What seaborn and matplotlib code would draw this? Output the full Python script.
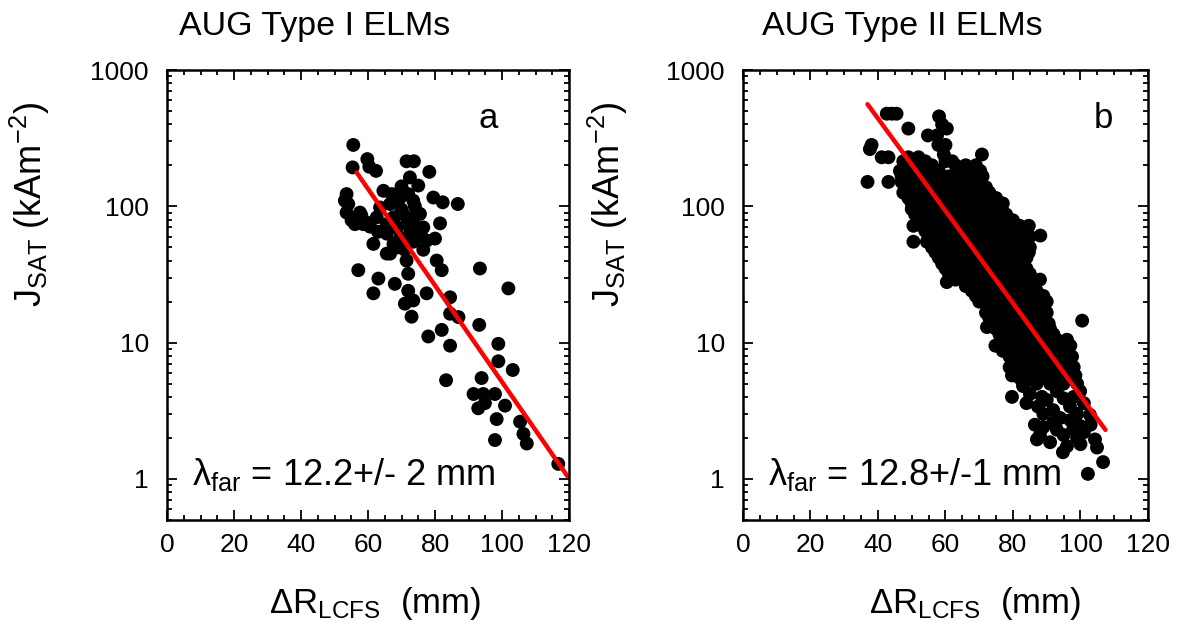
import numpy as np
import pandas as pd
import matplotlib
matplotlib.use("Agg")
import matplotlib.pyplot as plt
import seaborn as sns
from matplotlib.ticker import LogLocator, MultipleLocator, FixedLocator, FixedFormatter, NullFormatter

# ---- data ----
# panel a: AUG Type I ELMs  (dR in mm, Jsat in kA m^-2)
dr_a = [55.6, 55.4, 59.8, 60.4, 62.4, 71.5, 73.7, 78.3, 72.5, 75.0,
        53.6, 54.1, 53.6, 55.1, 57.6, 58.6, 56.1, 59.6, 64.6, 67.1,
        63.6, 66.6, 69.6, 72.0, 73.5, 75.5, 67.6, 70.5, 71.5, 74.5,
        68.6, 65.6, 62.6, 73.5, 76.5, 79.5, 82.3, 86.8, 81.5, 80.0,
        61.6, 66.6, 71.5, 73.5, 76.5, 69.6, 67.6, 65.6, 80.5, 82.0,
        93.4, 101.9, 57.1, 63.1, 61.6, 68.0, 72.0, 73.5, 71.0, 77.5,
        73.0, 84.5, 84.5, 87.0, 93.2, 82.0, 78.0, 84.5, 83.3, 98.9,
        98.9, 103.2, 93.9, 91.5, 94.4, 97.9, 92.9, 94.9, 100.9, 98.4,
        97.9, 105.4, 106.4, 107.4, 116.8, 69.0, 72.0, 67.6, 72.5, 71.0,
        77.5, 60.6, 53.1, 65.6, 70.0, 74.0, 76.0, 63.0, 58.0, 70.0]
js_a = [282, 193, 222, 195, 182, 214, 214, 179, 163, 142,
        123, 104, 90, 79, 90, 74, 74, 76, 130, 123,
        98, 104, 116, 123, 110, 88, 83, 88, 74, 70,
        70, 74, 83, 83, 70, 116, 107, 104, 75, 58,
        53, 45, 40, 55, 48, 59, 53, 63, 40, 34,
        35, 25, 34, 29.5, 23, 27, 24, 20.4, 19.3, 23,
        15.5, 21.5, 16.3, 15.4, 13.5, 12.4, 11.1, 9.5, 5.3, 9.8,
        7.3, 6.3, 5.5, 4.2, 4.2, 4.2, 3.3, 3.6, 3.45, 2.75,
        1.93, 2.63, 2.14, 1.82, 1.29, 50, 32, 80, 63, 48,
        56, 71, 110, 45, 95, 100, 60, 65, 86, 140]

# panel b: AUG Type II ELMs
dr_b = [42.6, 44.1, 45.5, 58.1, 49.0, 60.4, 59.0, 54.8, 57.5, 38.1,
        57.9, 60.0, 37.6, 59.5, 70.8, 41.1, 43.1, 49.0, 52.0, 47.5,
        51.0, 54.0, 60.0, 62.0, 48.0, 53.0, 56.0, 63.0, 66.0, 69.0,
        46.5, 50.0, 55.0, 58.0, 64.0, 67.0, 70.3, 47.0, 51.0, 54.0,
        57.0, 61.0, 65.0, 68.0, 71.0, 36.9, 43.1, 47.0, 49.5, 53.0,
        56.0, 59.0, 62.0, 66.0, 70.0, 48.0, 52.0, 55.0, 58.0, 61.0,
        64.0, 68.0, 72.0, 47.5, 50.5, 54.0, 57.0, 60.0, 63.0, 66.0,
        70.0, 73.0, 49.0, 52.0, 55.0, 59.0, 62.0, 65.0, 68.0, 71.0,
        75.0, 50.0, 53.0, 57.0, 60.0, 64.0, 67.0, 70.0, 74.0, 77.0,
        50.0, 52.0, 55.0, 58.0, 62.0, 65.0, 69.0, 72.0, 76.7, 51.0,
        54.0, 57.0, 60.0, 63.0, 67.0, 70.0, 74.0, 78.0, 52.0, 55.0,
        59.0, 62.0, 66.0, 69.0, 72.0, 76.0, 80.0, 50.5, 53.0, 56.0,
        60.0, 64.0, 67.0, 71.0, 75.0, 78.0, 82.0, 84.7, 54.0, 58.0,
        61.0, 65.0, 68.0, 72.0, 76.0, 80.0, 83.0, 88.1, 55.0, 59.0,
        63.0, 66.0, 70.0, 73.0, 77.0, 81.0, 85.0, 50.5, 54.5, 57.0,
        61.0, 64.0, 68.0, 72.0, 75.0, 79.0, 83.0, 56.0, 59.0, 63.0,
        67.0, 70.0, 74.0, 78.0, 82.0, 85.0, 57.0, 61.0, 65.0, 69.0,
        72.0, 76.0, 80.0, 84.7, 58.0, 62.0, 66.0, 70.0, 73.0, 77.0,
        81.0, 84.0, 59.0, 63.0, 67.0, 71.0, 75.0, 79.0, 83.0, 60.0,
        64.0, 68.0, 72.0, 76.0, 80.0, 84.0, 61.0, 65.0, 69.0, 73.0,
        77.0, 81.0, 85.0, 63.0, 67.0, 71.0, 75.0, 79.0, 83.0, 88.0,
        60.4, 66.0, 70.0, 74.0, 78.0, 82.0, 86.0, 67.8, 71.0, 75.0,
        79.0, 83.0, 87.0, 69.0, 73.0, 77.0, 81.0, 85.0, 89.0, 70.0,
        74.0, 78.0, 82.0, 86.0, 90.0, 72.8, 76.0, 80.0, 84.0, 88.0,
        72.0, 75.0, 79.0, 83.0, 87.0, 90.0, 73.0, 77.0, 81.0, 85.0,
        89.0, 100.5, 74.0, 78.0, 82.0, 86.0, 90.6, 72.3, 75.0, 79.0,
        83.0, 87.0, 91.0, 76.0, 80.0, 84.0, 88.0, 92.0, 77.0, 81.0,
        85.0, 89.0, 93.0, 96.0, 74.8, 78.0, 82.0, 86.0, 90.0, 94.0,
        97.0, 77.0, 80.0, 84.0, 88.0, 92.0, 96.0, 79.0, 83.0, 87.0,
        91.0, 95.0, 97.5, 80.0, 84.0, 88.0, 92.0, 96.0, 79.0, 82.0,
        86.0, 90.0, 94.0, 98.0, 80.0, 84.0, 88.0, 92.0, 96.0, 79.7,
        98.5, 82.0, 86.0, 90.0, 94.0, 98.0, 83.0, 87.0, 91.0, 95.0,
        99.0, 79.7, 83.0, 88.6, 93.0, 99.9, 87.4, 86.5, 91.9, 96.9,
        102.8, 87.1, 91.0, 96.0, 97.8, 99.9, 104.3, 104.9, 94.8, 106.7,
        102.2, 85.0, 90.0, 95.0, 98.0, 89.0, 94.0, 99.0, 101.0, 89.0,
        93.0, 95.0, 99.0, 101.0, 103.0, 88.0, 92.0, 97.0, 100.0, 84.0]
js_b = [478, 478, 478, 457, 372, 372, 398, 331, 331, 282,
        282, 282, 263, 240, 240, 229, 229, 229, 229, 214,
        214, 214, 214, 214, 200, 200, 200, 200, 200, 200,
        182, 182, 182, 182, 182, 182, 182, 166, 166, 166,
        166, 166, 166, 166, 166, 151, 151, 151, 151, 151,
        151, 151, 151, 151, 151, 138, 138, 138, 138, 138,
        138, 138, 138, 126, 126, 126, 126, 126, 126, 126,
        126, 126, 115, 115, 115, 115, 115, 115, 115, 115,
        115, 105, 105, 105, 105, 105, 105, 105, 105, 105,
        95.5, 95.5, 95.5, 95.5, 95.5, 95.5, 95.5, 95.5, 95.5, 87,
        87, 87, 87, 87, 87, 87, 87, 87, 79, 79,
        79, 79, 79, 79, 79, 79, 79, 72, 72, 72,
        72, 72, 72, 72, 72, 72, 72, 72, 66, 66,
        66, 66, 66, 66, 66, 66, 66, 61, 60, 60,
        60, 60, 60, 60, 60, 60, 60, 55, 55, 55,
        55, 55, 55, 55, 55, 55, 55, 50, 50, 50,
        50, 50, 50, 50, 50, 50, 46, 46, 46, 46,
        46, 46, 46, 46, 42, 42, 42, 42, 42, 42,
        42, 42, 38, 38, 38, 38, 38, 38, 38, 35,
        35, 35, 35, 35, 35, 35, 32, 32, 32, 32,
        32, 32, 32, 29, 29, 29, 29, 29, 29, 29,
        27.8, 26, 26, 26, 26, 26, 26, 24, 24, 24,
        24, 24, 24, 22, 22, 22, 22, 22, 22, 20,
        20, 20, 20, 20, 20, 18.2, 18.2, 18.2, 18.2, 18.2,
        16.6, 16.6, 16.6, 16.6, 16.6, 16.6, 15.1, 15.1, 15.1, 15.1,
        15.1, 14.5, 13.8, 13.8, 13.8, 13.8, 13.8, 13.0, 12.6, 12.6,
        12.6, 12.6, 12.6, 11.5, 11.5, 11.5, 11.5, 11.5, 10.5, 10.5,
        10.5, 10.5, 10.5, 10.5, 9.5, 9.5, 9.5, 9.5, 9.5, 9.5,
        9.5, 8.7, 8.7, 8.7, 8.7, 8.7, 8.7, 7.9, 7.9, 7.9,
        7.9, 7.9, 7.9, 7.2, 7.2, 7.2, 7.2, 7.2, 6.6, 6.6,
        6.6, 6.6, 6.6, 6.6, 6.0, 6.0, 6.0, 6.0, 6.0, 5.75,
        5.75, 5.5, 5.5, 5.5, 5.5, 5.5, 5.0, 5.0, 5.0, 5.0,
        5.0, 4.0, 4.8, 4.0, 4.4, 4.4, 3.4, 2.5, 3.2, 3.4,
        2.95, 1.95, 1.86, 1.74, 2.3, 2.45, 1.95, 1.7, 1.57, 1.33,
        1.09, 4.2, 3.8, 3.9, 4.0, 3.0, 2.8, 3.0, 3.6, 2.4,
        2.3, 2.1, 2.0, 2.2, 2.5, 2.1, 2.6, 2.7, 1.8, 3.6]

# fitted exponential decay lines (end points)
fit_a_x = [56.6, 119.5]
fit_a_y = [177, 1.05]
fit_b_x = [36.9, 107.4]
fit_b_y = [561, 2.29]

titles = ["AUG Type I ELMs", "AUG Type II ELMs"]
panel_tags = ["a", "b"]
lambda_txt = ["12.2+/- 2 mm", "12.8+/-1 mm"]
ytick_vals = [1, 10, 100, 1000]
ytick_lbls = ["1", "10", "100", "1000"]
xtick_vals = [0, 20, 40, 60, 80, 100, 120]

sns.set_style("ticks")
plt.rcParams["font.family"] = ["Liberation Sans", "DejaVu Sans"]
plt.rcParams["mathtext.default"] = "regular"
for k in ["text.color", "axes.labelcolor", "xtick.color", "ytick.color"]:
    plt.rcParams[k] = "black"

fig = plt.figure(figsize=(11.82, 6.25), dpi=100)
ax_a = fig.add_axes([0.1413, 0.168, 0.3401, 0.720])
ax_b = fig.add_axes([0.6286, 0.168, 0.3426, 0.720])

panels = [
    (ax_a, dr_a, js_a, fit_a_x, fit_a_y),
    (ax_b, dr_b, js_b, fit_b_x, fit_b_y),
]

for i, (ax, xs, ys, fx, fy) in enumerate(panels):
    pts = pd.DataFrame({"dR": xs, "J": ys})
    sns.scatterplot(data=pts, x="dR", y="J", ax=ax, color="black",
                    s=100, edgecolor="none", linewidth=0, legend=False)
    fit = pd.DataFrame({"dR": fx, "J": fy})
    sns.lineplot(data=fit, x="dR", y="J", ax=ax, color="red", lw=3.2)

    ax.set_yscale("log")
    ax.set_xlim(0, 120)
    ax.set_ylim(0.5, 1000)
    ax.yaxis.set_major_locator(FixedLocator(ytick_vals))
    ax.yaxis.set_major_formatter(FixedFormatter(ytick_lbls))
    ax.yaxis.set_minor_locator(LogLocator(base=10, subs=np.arange(2, 10)))
    ax.yaxis.set_minor_formatter(NullFormatter())
    ax.xaxis.set_major_locator(FixedLocator(xtick_vals))
    ax.xaxis.set_minor_locator(MultipleLocator(5))

    ax.tick_params(which="both", direction="in", top=True, right=True,
                   width=1.3, color="black")
    ax.tick_params(which="major", length=7)
    ax.tick_params(which="minor", length=3.5)
    ax.tick_params(axis="y", which="major", labelsize=19, pad=13)
    ax.tick_params(axis="x", which="major", labelsize=19, pad=9)
    for sp in ax.spines.values():
        sp.set_linewidth(1.8)
        sp.set_color("black")

    ax.set_ylabel("J$_{SAT}$ (kAm$^{-2}$)", fontsize=26)
    ax.set_xlabel("ΔR$_{LCFS}$  (mm)", fontsize=25)

    ax.text(0.061, 0.078, "λ$_{far}$ = " + lambda_txt[i], transform=ax.transAxes,
            fontsize=26, ha="left", va="baseline")

ax_a.text(0.80, 0.871, panel_tags[0], transform=ax_a.transAxes,
          fontsize=25, ha="center", va="baseline")
ax_b.text(0.889, 0.871, panel_tags[1], transform=ax_b.transAxes,
          fontsize=25, ha="center", va="baseline")

ax_a.yaxis.set_label_coords(-0.286, 0.70)
ax_b.yaxis.set_label_coords(-0.279, 0.70)
ax_a.xaxis.set_label_coords(0.517, -0.145)
ax_b.xaxis.set_label_coords(0.573, -0.145)

fig.text(0.2665, 0.944, titles[0], fontsize=24.5, ha="center", va="baseline")
fig.text(0.763, 0.944, titles[1], fontsize=24.5, ha="center", va="baseline")

fig.savefig("out.png", dpi=100)
